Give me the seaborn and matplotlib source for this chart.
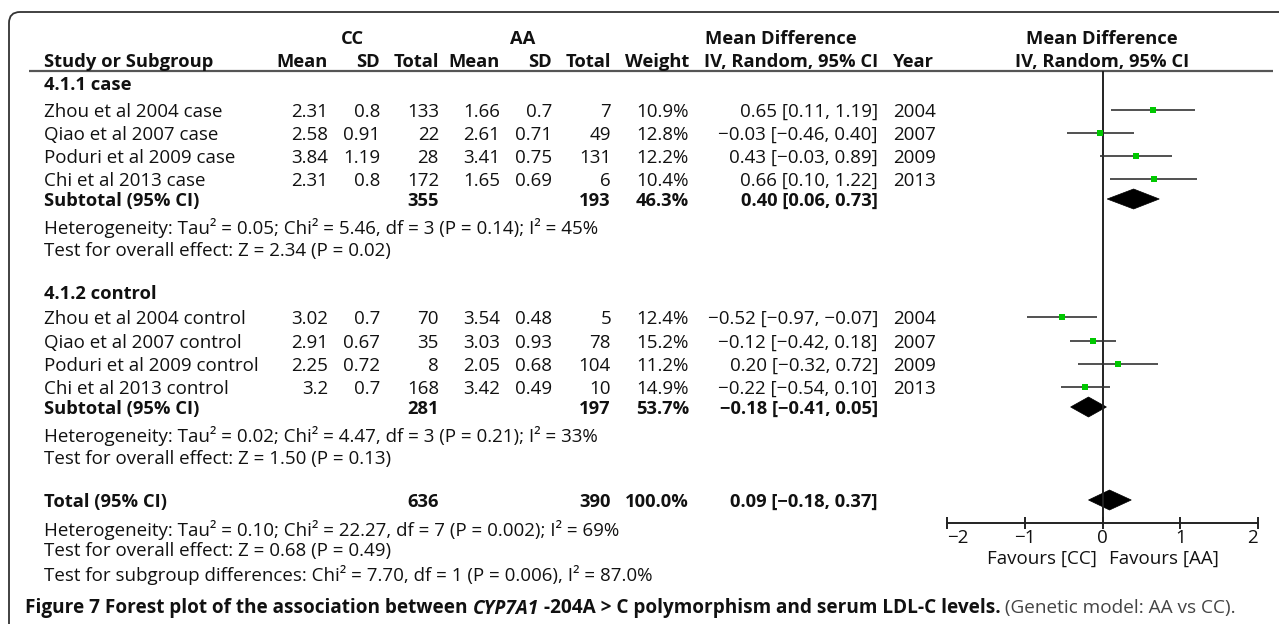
import numpy as np
import pandas as pd
import matplotlib
matplotlib.use("Agg")
import matplotlib.pyplot as plt
import seaborn as sns
from matplotlib.path import Path
from matplotlib.patches import PathPatch, Polygon

# datos del forest plot
case_studies = ["Zhou et al 2004 case", "Qiao et al 2007 case", "Poduri et al 2009 case", "Chi et al 2013 case"]
case_cc_mean = [2.31, 2.58, 3.84, 2.31]
case_cc_sd = [0.8, 0.91, 1.19, 0.8]
case_cc_total = [133, 22, 28, 172]
case_aa_mean = [1.66, 2.61, 3.41, 1.65]
case_aa_sd = [0.7, 0.71, 0.75, 0.69]
case_aa_total = [7, 49, 131, 6]
case_weight = [10.9, 12.8, 12.2, 10.4]
case_md = [0.65, -0.03, 0.43, 0.66]
case_lo = [0.11, -0.46, -0.03, 0.10]
case_hi = [1.19, 0.40, 0.89, 1.22]
case_year = [2004, 2007, 2009, 2013]

control_studies = ["Zhou et al 2004 control", "Qiao et al 2007 control", "Poduri et al 2009 control", "Chi et al 2013 control"]
control_cc_mean = [3.02, 2.91, 2.25, 3.2]
control_cc_sd = [0.7, 0.67, 0.72, 0.7]
control_cc_total = [70, 35, 8, 168]
control_aa_mean = [3.54, 3.03, 2.05, 3.42]
control_aa_sd = [0.48, 0.93, 0.68, 0.49]
control_aa_total = [5, 78, 104, 10]
control_weight = [12.4, 15.2, 11.2, 14.9]
control_md = [-0.52, -0.12, 0.20, -0.22]
control_lo = [-0.97, -0.42, -0.32, -0.54]
control_hi = [-0.07, 0.18, 0.72, 0.10]
control_year = [2004, 2007, 2009, 2013]

group_labels = ["4.1.1 case", "4.1.2 control"]
sub_cc_total = [355, 281]
sub_aa_total = [193, 197]
sub_weight = [46.3, 53.7]
sub_md = [0.40, -0.18]
sub_lo = [0.06, -0.41]
sub_hi = [0.73, 0.05]
sub_het = ["Heterogeneity: Tau\u00b2 = 0.05; Chi\u00b2 = 5.46, df = 3 (P = 0.14); I\u00b2 = 45%",
           "Heterogeneity: Tau\u00b2 = 0.02; Chi\u00b2 = 4.47, df = 3 (P = 0.21); I\u00b2 = 33%"]
sub_test = ["Test for overall effect: Z = 2.34 (P = 0.02)",
            "Test for overall effect: Z = 1.50 (P = 0.13)"]

total_cc = 636
total_aa = 390
total_weight = 100.0
total_md = 0.09
total_lo = -0.18
total_hi = 0.37
total_notes = ["Heterogeneity: Tau\u00b2 = 0.10; Chi\u00b2 = 22.27, df = 7 (P = 0.002); I\u00b2 = 69%",
               "Test for overall effect: Z = 0.68 (P = 0.49)",
               "Test for subgroup differences: Chi\u00b2 = 7.70, df = 1 (P = 0.006), I\u00b2 = 87.0%"]

axis_ticks = [-2, -1, 0, 1, 2]

# posiciones de filas (pixeles) y columnas
group_rows = [
    {"label": 83, "studies": [110, 133, 156, 179], "sub": 199, "het": 226, "test": 249},
    {"label": 292, "studies": [317, 341, 364, 387], "sub": 407, "het": 434, "test": 457},
]
total_row = 500
total_note_rows = [528, 549, 573]
col = {"name": 44, "cc_mean": 328, "cc_sd": 380, "cc_total": 439, "aa_mean": 500,
       "aa_sd": 552, "aa_total": 611, "weight": 689, "md": 878, "year": 893}

sns.set_theme(style="white")
plt.rcParams['font.family'] = ['Open Sans', 'DejaVu Sans']
FS = 13.5
FS_B = 13.2
INK = "#111111"


def fmt(v):
    return f"{v:.2f}".replace("-", "\u2212")


def ci_text(m, lo, hi):
    return f"{fmt(m)} [{fmt(lo)}, {fmt(hi)}]"


W, H = 1279, 624
fig = plt.figure(figsize=(W / 100, H / 100), dpi=100)
ax = fig.add_axes([0, 0, 1, 1])
ax.set_xlim(0, W)
ax.set_ylim(H, 0)
ax.axis("off")

# marco redondeado
r = 11
verts = [(9, H + 5), (9, 12 + r), (9, 12), (9 + r, 12), (W + 5, 12)]
codes = [Path.MOVETO, Path.LINETO, Path.CURVE3, Path.CURVE3, Path.LINETO]
ax.add_patch(PathPatch(Path(verts, codes), fill=False, edgecolor="#333333", lw=1.3))


def txt(x, y, s, ha="right", bold=False, **kw):
    ax.text(x, y, s, ha=ha, va="center_baseline", fontsize=FS_B if bold else FS, color=INK,
            fontweight="bold" if bold else "normal", **kw)


# cabecera
txt(352, 37, "CC", ha="center", bold=True)
txt(523, 37, "AA", ha="center", bold=True)
txt(781, 37, "Mean Difference", ha="center", bold=True)
txt(1102, 37, "Mean Difference", ha="center", bold=True)
txt(col["name"], 60, "Study or Subgroup", ha="left", bold=True)
for key, lab in [("cc_mean", "Mean"), ("cc_sd", "SD"), ("cc_total", "Total"), ("aa_mean", "Mean"),
                 ("aa_sd", "SD"), ("aa_total", "Total"), ("weight", "Weight"), ("md", "IV, Random, 95% CI")]:
    txt(col[key], 60, lab, bold=True)
txt(col["year"], 60, "Year", ha="left", bold=True)
txt(1102, 60, "IV, Random, 95% CI", ha="center", bold=True)
ax.plot([29, 1273], [71, 71], color="#555555", lw=1.6, solid_capstyle="butt")

groups = [
    (case_studies, case_cc_mean, case_cc_sd, case_cc_total, case_aa_mean, case_aa_sd,
     case_aa_total, case_weight, case_md, case_lo, case_hi, case_year),
    (control_studies, control_cc_mean, control_cc_sd, control_cc_total, control_aa_mean, control_aa_sd,
     control_aa_total, control_weight, control_md, control_lo, control_hi, control_year),
]

records = []
diamonds = []
for g, (grp, rows) in enumerate(zip(groups, group_rows)):
    names, ccm, ccs, cct, aam, aas, aat, wt, md, lo, hi, yr = grp
    txt(col["name"], rows["label"], group_labels[g], ha="left", bold=True)
    for i, y in enumerate(rows["studies"]):
        txt(col["name"], y, names[i], ha="left")
        txt(col["cc_mean"], y, str(ccm[i]))
        txt(col["cc_sd"], y, str(ccs[i]))
        txt(col["cc_total"], y, str(cct[i]))
        txt(col["aa_mean"], y, str(aam[i]))
        txt(col["aa_sd"], y, str(aas[i]))
        txt(col["aa_total"], y, str(aat[i]))
        txt(col["weight"], y, f"{wt[i]:.1f}%")
        txt(col["md"], y, ci_text(md[i], lo[i], hi[i]))
        txt(col["year"], y, str(yr[i]), ha="left")
        records.append({"study": names[i], "md": md[i], "lo": lo[i], "hi": hi[i], "y": y})
    y = rows["sub"]
    txt(col["name"], y, "Subtotal (95% CI)", ha="left", bold=True)
    txt(col["cc_total"], y, str(sub_cc_total[g]), bold=True)
    txt(col["aa_total"], y, str(sub_aa_total[g]), bold=True)
    txt(col["weight"], y, f"{sub_weight[g]:.1f}%", bold=True)
    txt(col["md"], y, ci_text(sub_md[g], sub_lo[g], sub_hi[g]), bold=True)
    diamonds.append((sub_md[g], sub_lo[g], sub_hi[g], y))
    txt(col["name"], rows["het"], sub_het[g], ha="left")
    txt(col["name"], rows["test"], sub_test[g], ha="left")

txt(col["name"], total_row, "Total (95% CI)", ha="left", bold=True)
txt(col["cc_total"], total_row, str(total_cc), bold=True)
txt(col["aa_total"], total_row, str(total_aa), bold=True)
txt(col["weight"], total_row, f"{total_weight:.1f}%", bold=True)
txt(col["md"], total_row, ci_text(total_md, total_lo, total_hi), bold=True)
diamonds.append((total_md, total_lo, total_hi, total_row))
for s, y in zip(total_notes, total_note_rows):
    txt(col["name"], y, s, ha="left")

# forest plot
x0, x1 = 947, 1258
fax = fig.add_axes([x0 / W, 0, (x1 - x0) / W, 1], sharey=ax)
fax.set_facecolor("none")
fax.set_xlim(axis_ticks[0], axis_ticks[-1])
for s in ["left", "right", "top"]:
    fax.spines[s].set_visible(False)
fax.spines["bottom"].set_position(("data", 523))
fax.spines["bottom"].set_color("#222222")
fax.spines["bottom"].set_linewidth(1.4)
fax.tick_params(axis="x", direction="inout", length=9, width=1.4, color="#222222",
                labelsize=FS, labelcolor=INK, pad=0, bottom=True)
fax.tick_params(axis="y", left=False, labelleft=False)
fax.set_xticks(axis_ticks)
fax.set_xticklabels([str(t).replace("-", "\u2212") for t in axis_ticks])
tl = fax.get_xticklabels()
tl[0].set_ha("left")
tl[-1].set_ha("right")
fax.vlines(0, 71, 523, color="#222222", lw=1.4)

df = pd.DataFrame(records)
fax.hlines(df["y"], df["lo"], df["hi"], color="#333333", lw=1.2)
sns.scatterplot(data=df, x="md", y="y", ax=fax, marker="s", color="#00c800", s=24,
                linewidth=0, legend=False, zorder=3)
for m, lo, hi, y in diamonds:
    fax.add_patch(Polygon([(lo, y), (m, y - 10), (hi, y), (m, y + 10)], closed=True,
                          facecolor="black", edgecolor="black", lw=0.5))
fax.set_xlabel("")
fax.set_ylabel("")
fax.set_ylim(H, 0)
fax.annotate("Favours [CC]", xy=(0, 557), xytext=(-4, 0), textcoords="offset points",
             ha="right", va="center_baseline", fontsize=FS, color=INK)
fax.annotate("Favours [AA]", xy=(0, 557), xytext=(5, 0), textcoords="offset points",
             ha="left", va="center_baseline", fontsize=FS, color=INK)

# pie de figura con tramos de estilo distinto
renderer = fig.canvas.get_renderer()
cx = 25
runs = [("Figure 7 Forest plot of the association between ", "bold", "normal", INK),
        ("CYP7A1", "bold", "italic", INK),
        (" -204A > C polymorphism and serum LDL-C levels.", "bold", "normal", INK),
        (" (Genetic model: AA vs CC).", "normal", "normal", "#444444")]
for s, w, st, c in runs:
    t = ax.text(cx, 606, s, ha="left", va="center_baseline", fontsize=13.7, fontweight=w,
                fontstyle=st, color=c)
    cx = t.get_window_extent(renderer=renderer).x1

fig.savefig("out.png", dpi=100)
